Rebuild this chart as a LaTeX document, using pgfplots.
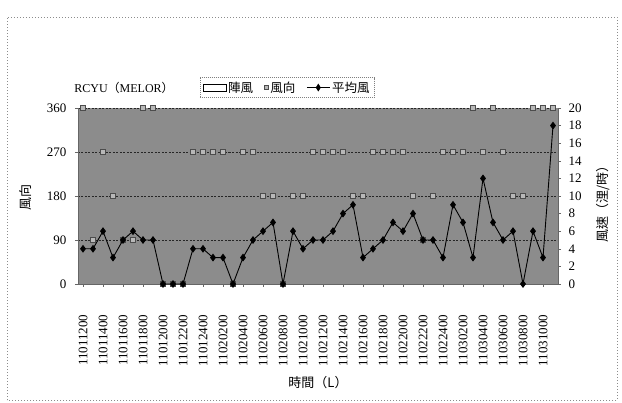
\documentclass[border=0pt]{standalone}
\usepackage{fontspec}
\setmainfont{Liberation Serif}
\newfontfamily\cjk{Noto Sans CJK TC}
\usepackage{pgfplots}
\usepackage{pgfplotstable}
\pgfplotsset{compat=1.18}
\pgfplotstableread{
x dir spd
0 360 4
1 90 4
2 270 6
3 180 3
4 90 5
5 90 6
6 360 5
7 360 5
8 0 0
9 0 0
10 0 0
11 270 4
12 270 4
13 270 3
14 270 3
15 0 0
16 270 3
17 270 5
18 180 6
19 180 7
20 0 0
21 180 6
22 180 4
23 270 5
24 270 5
25 270 6
26 270 8
27 180 9
28 180 3
29 270 4
30 270 5
31 270 7
32 270 6
33 180 8
34 90 5
35 180 5
36 270 3
37 270 9
38 270 7
39 360 3
40 270 12
41 360 7
42 270 5
43 180 6
44 180 0
45 360 6
46 360 3
47 360 18
}\data
\begin{document}
\begin{tikzpicture}
\begin{axis}[
  at={(0,0)}, anchor=south west,
  scale only axis, width=480pt, height=176pt,
  xmin=-0.5, xmax=47.5, ymin=0, ymax=360,
  ytick={0,90,180,270,360},
  xtick={0,2,...,46},
  xticklabels={11011200,11011400,11011600,11011800,11012000,11012200,11012400,11020200,11020400,11020600,11020800,11021000,11021200,11021400,11021600,11021800,11022000,11022200,11022400,11030200,11030400,11030600,11030800,11031000},
  /pgf/number format/assume math mode=true,
  axis background/.style={fill=black!45},
  ymajorgrids,
  grid style={black!85, dash pattern=on 2pt off 1.5pt, line width=0.6pt},
  axis x line*=bottom, axis y line*=left,
  axis line style={black!60, -},
  tick style={black!60},
  major tick length=3pt,
  tick align=outside,
  ticklabel style={font=\fontsize{13}{13}\selectfont},
  xticklabel style={rotate=90, anchor=east, xshift=-24pt},
  yticklabel style={xshift=-5pt},
  ylabel={\cjk 風向},
  ylabel style={at={(axis description cs:-0.110,0.494)}, anchor=center, font=\fontsize{13}{13}\selectfont},
  xlabel={\cjk 時間（L）},
  xlabel style={at={(axis description cs:0.5,-0.5625)}, anchor=center, font=\fontsize{13}{13}\selectfont},
  clip=false,
]
\addplot[only marks, mark=square*, mark size=2.5pt, mark options={fill=black!28, draw=black!70}] table[x=x, y=dir] {\data};
\node[anchor=west, font=\fontsize{12}{12}\selectfont] at (rel axis cs:-0.015,1.115) {RCYU{\cjk（}MELOR{\cjk）}};
\end{axis}
\begin{axis}[
  at={(0,0)}, anchor=south west,
  scale only axis, width=480pt, height=176pt,
  xmin=-0.5, xmax=47.5, ymin=0, ymax=20,
  ytick={0,2,...,20},
  /pgf/number format/assume math mode=true,
  axis x line=none, axis y line*=right,
  axis line style={black!60, -},
  tick style={black!60},
  major tick length=3pt,
  tick align=outside,
  ticklabel style={font=\fontsize{13}{13}\selectfont},
  yticklabel style={xshift=4pt},
  ylabel={\cjk 風速（浬/時）},
  ylabel style={at={(axis description cs:1.094,0.47)}, anchor=center, font=\fontsize{13}{13}\selectfont},
  legend columns=3,
  legend style={at={(0.436,1.116)}, anchor=center, draw=black!50, dash pattern=on 1pt off 1pt, fill=white, font=\fontsize{12.5}{12.5}\selectfont, /tikz/every even column/.append style={column sep=9pt}},
  legend image code/.code={},
  clip=false,
]
\addlegendimage{legend image code/.code={\draw[solid, draw=black, fill=white] (0cm,-0.12cm) rectangle (0.8cm,0.12cm);}}
\addlegendentry{\cjk 陣風}
\addlegendimage{legend image code/.code={\draw[solid, fill=black!28, draw=black!70] (0.45cm,-0.07cm) rectangle (0.59cm,0.07cm);}}
\addlegendentry{\cjk 風向}
\addplot[black, solid, line width=0.9pt, mark=diamond*, mark size=3.2pt, mark options={solid, fill=black}, legend image code/.code={\draw[solid, black, line width=0.9pt] (0cm,0cm) -- (0.8cm,0cm); \fill[black] (0.4cm,0cm) ++(0,0.11cm) -- ++(0.07cm,-0.11cm) -- ++(-0.07cm,-0.11cm) -- ++(-0.07cm,0.11cm) -- cycle;}] table[x=x, y=spd] {\data};
\addlegendentry{\cjk 平均風}
\end{axis}
\draw[black!45, dash pattern=on 1pt off 2pt] (-71pt,-116pt) rectangle (539pt,267pt);
\pgfresetboundingbox
\useasboundingbox (-78pt,-119pt) rectangle (544pt,284pt);
\end{tikzpicture}
\end{document}
